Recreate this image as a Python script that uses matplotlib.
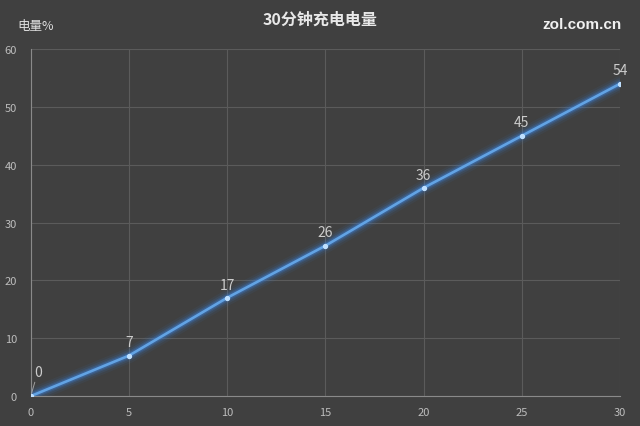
import matplotlib
matplotlib.use('Agg')
import matplotlib.pyplot as plt

plt.rcParams['font.family'] = ['Noto Sans CJK SC', 'DejaVu Sans']

# data
minutes = [0, 5, 10, 15, 20, 25, 30]
charge = [0, 7, 17, 26, 36, 45, 54]
x_ticks = [0, 5, 10, 15, 20, 25, 30]
y_ticks = [0, 10, 20, 30, 40, 50, 60]

bg = '#404040'
fig = plt.figure(figsize=(6.4, 4.27), dpi=100, facecolor=bg)
ax = fig.add_axes([0.048, 0.070, 0.921, 0.813])
ax.set_facecolor(bg)

# glow around the line
for lw, a in [(11, 0.07), (8, 0.12), (5.5, 0.20), (3.8, 0.32)]:
    ax.plot(minutes, charge, color='#3a7fd8', lw=lw, alpha=a, solid_capstyle='round', zorder=3)
ax.plot(minutes, charge, color='#62a3e4', lw=1.9, zorder=4)
ax.plot(minutes, charge, 'o', color='#bfe0ff', ms=2.8, zorder=5)

for xv, yv in zip(minutes[1:], charge[1:]):
    ax.annotate(str(yv), (xv, yv), xytext=(0, 4.5), textcoords='offset points',
                ha='center', va='bottom', color='#cccccc', fontsize=10, zorder=6)
# label for the first point with a leader line
ax.annotate(str(charge[0]), (minutes[0], charge[0]), xytext=(5, 12), textcoords='offset points',
            ha='center', va='bottom', color='#cccccc', fontsize=10, zorder=6,
            arrowprops=dict(arrowstyle='-', color='#a0a0a0', lw=0.7, shrinkA=0, shrinkB=2))

ax.set_xlim(0, 30)
ax.set_ylim(0, 60)
ax.set_xticks(x_ticks)
ax.set_yticks(y_ticks)
ax.grid(True, color='#5b5b5b', lw=0.8)
ax.set_axisbelow(True)
for s in ['top', 'right']:
    ax.spines[s].set_visible(False)
for s in ['left', 'bottom']:
    ax.spines[s].set_color('#8a8a8a')
    ax.spines[s].set_linewidth(0.8)
ax.tick_params(length=0, colors='#bdbdbd', labelsize=8, pad=8)
ax.tick_params(axis='y', pad=10)

fig.text(0.5, 0.953, '30分钟充电电量', ha='center', va='center', color='#e8e8e8',
         fontsize=11.5, fontweight='bold')
fig.text(0.027, 0.937, '电量%', ha='left', va='center', color='#e0e0e0', fontsize=9)
fig.text(0.972, 0.942, 'zol.com.cn', ha='right', va='center', color='#f0f0f0',
         fontsize=11, fontweight='bold', family=['Liberation Sans', 'DejaVu Sans'])

fig.savefig('out.png', dpi=100, facecolor=bg)
